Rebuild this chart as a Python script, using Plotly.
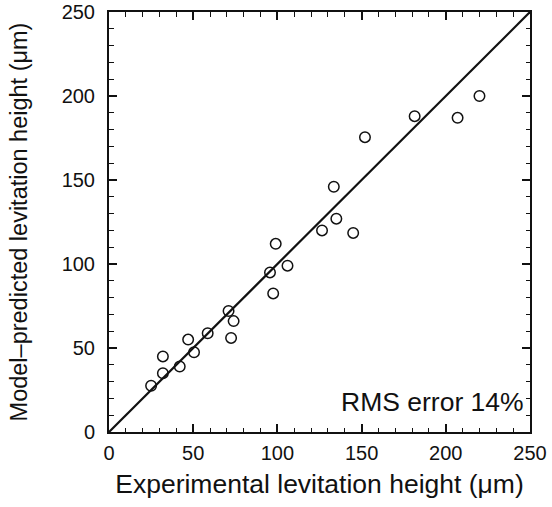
import plotly.graph_objects as go

exp_height = [25, 32, 32, 42, 47, 50.5, 58.6, 71, 74, 72.5, 95.6, 97.5, 99, 106,
              126.5, 133.5, 135, 145, 152, 181.5, 207, 220]
model_height = [27.5, 35, 45, 39, 55, 47.5, 58.8, 72, 66, 56, 95, 82.5, 112, 99,
                120, 146, 127, 118.5, 175.5, 188, 187, 200]
ideal_line = [0, 250]
axis_range = [0, 250]
major_step = 50
minor_step = 10

FONT = "Liberation Sans, Arial, Helvetica, sans-serif"
INK = "#111111"

fig = go.Figure()
# diagonal drawn on a second subplot that shares the same domain and range,
# whose mirrored ticks supply the bottom/left tick marks
fig.add_trace(go.Scatter(x=ideal_line, y=ideal_line, mode="lines", xaxis="x2", yaxis="y2",
                         line=dict(color=INK, width=2.2), showlegend=False,
                         hoverinfo="skip"))
fig.add_trace(go.Scatter(x=exp_height, y=model_height, mode="markers",
                         marker=dict(symbol="circle", size=10.5, color="white",
                                     line=dict(color=INK, width=1.5)),
                         showlegend=False, cliponaxis=False))

base = dict(range=axis_range, tickmode="linear", tick0=0, dtick=major_step,
            showgrid=False, zeroline=False, automargin=False, domain=[0, 1],
            ticks="inside", ticklen=8, tickwidth=1.5, tickcolor=INK,
            showline=True, linecolor=INK, linewidth=2, mirror="allticks",
            minor=dict(dtick=minor_step, tick0=0, ticks="inside", ticklen=4.5,
                       tickwidth=1.3, tickcolor=INK, showgrid=False))

fig.update_layout(
    xaxis=dict(**base, anchor="y", side="bottom", ticklabelstandoff=2,
               tickfont=dict(family=FONT, size=20, color=INK),
               title=dict(text="Experimental levitation height (\u03bcm)",
                          font=dict(family=FONT, size=26.5, color=INK), standoff=11)),
    yaxis=dict(**base, anchor="x", side="left", ticklabelstandoff=8,
               tickfont=dict(family=FONT, size=20, color=INK),
               title=dict(text="Model\u2013predicted levitation height (\u03bcm)",
                          font=dict(family=FONT, size=23.5, color=INK), standoff=27)),
    xaxis2=dict(**base, anchor="y2", side="top", showticklabels=False),
    yaxis2=dict(**base, anchor="x2", side="right", showticklabels=False),
)

fig.add_annotation(text="RMS error 14%", xref="paper", yref="paper", x=0.99, y=0.072,
                   xanchor="right", yanchor="middle", showarrow=False,
                   font=dict(family=FONT, size=26.5, color=INK))

fig.update_layout(width=552, height=507, plot_bgcolor="rgba(0,0,0,0)", paper_bgcolor="white",
                  margin=dict(l=109, r=22, t=12, b=75))

fig.write_html("out.html", config={"displayModeBar": False},
               post_script="document.body.style.margin='0';document.body.style.overflow='hidden';")
